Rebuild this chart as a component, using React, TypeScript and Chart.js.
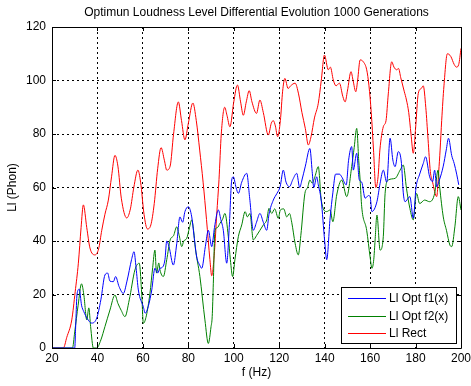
import React, { useEffect, useRef } from "react";
import { Chart, registerables } from "chart.js";

Chart.register(...registerables);

// ---- Data ----
const fRect = [20, 25, 26.5, 28.7, 30.2, 31.6, 32.8, 33.8, 35.3, 36.7, 38.9, 40.5, 41.9, 43.3, 44.8, 46.2, 47.7, 49, 50.5, 52.9, 54.5, 56, 57.8, 59, 60.5, 62, 63.5, 65, 66.5, 68, 69.5, 70.5, 72, 73.5, 75.6, 77, 78.5, 80, 82, 83.5, 85, 86.5, 88, 89.5, 90.3, 91.5, 92.5, 93.5, 94.5, 96, 97, 98.3, 100, 101.6, 103, 104.2, 105.5, 106.8, 108, 110, 111.5, 113, 115.2, 116.5, 117.4, 118.3, 119.3, 120.5, 121.5, 122.5, 123.9, 125, 127, 128.5, 130, 131.5, 132.8, 134, 135.5, 137.2, 138.5, 139.9, 141.6, 142.5, 143.8, 145, 146.5, 148, 149, 150, 151.6, 152.5, 153.7, 154.5, 155.6, 157, 158.5, 159.5, 160.5, 161.5, 162.5, 163.5, 164.3, 165.8, 167, 168, 169.5, 170.5, 171.7, 172.5, 173.5, 175, 176, 177, 178, 179, 180, 181.2, 182.5, 183.4, 184.5, 185.5, 186.5, 187.5, 189.3, 190.2, 190.8, 191.5, 192.5, 194, 195.5, 197, 198, 199, 200];
const llRect = [0, 0, 4, 10.5, 21, 31.7, 45, 53.5, 45, 37.4, 34.8, 37, 44, 50, 55.3, 64, 72, 68, 56, 48.6, 52, 60, 66.5, 62, 50, 44.5, 46, 54, 67, 74.9, 70, 66.5, 68, 80, 92, 85, 77.8, 84, 91.6, 85, 74, 62, 48, 33, 27, 36, 50, 63, 80, 90, 87, 82.7, 92, 98.3, 92, 87, 92, 96.2, 92, 87.7, 92.7, 88, 79.6, 84, 85, 83, 79, 85, 96, 100.8, 97, 98, 99, 95, 88, 82, 75.9, 79, 86, 91.5, 100, 109.5, 104, 105, 100.2, 98, 99, 94, 92, 96, 103.3, 100, 95.8, 100, 107.7, 107, 104, 98, 88, 74, 60, 64, 74, 82.7, 85, 95, 107, 105, 104, 104.5, 101, 96, 92.7, 88, 80, 72.8, 82, 95.2, 97, 98, 90, 78, 66, 62, 56.6, 66, 74, 85, 98, 110, 109, 106, 105, 106, 112];

const fOpt1 = [20, 30, 30.5, 31, 32, 33, 34, 35.5, 37.5, 39.7, 41.5, 43.3, 44.5, 45.5, 47, 48, 49.5, 51.4, 53, 55, 56.1, 57, 58, 60.2, 61, 62.5, 63.9, 65.3, 66.5, 67.5, 68.3, 69.7, 70.5, 71.5, 73.4, 74.9, 76.3, 77.5, 78.5, 80, 81.5, 82.5, 83.7, 85, 85.9, 87.5, 88.8, 90.3, 91.5, 93.2, 94.3, 95.4, 96.9, 98, 99.1, 99.8, 101, 102, 103.5, 105.7, 107, 108.6, 110, 111.5, 113, 114.5, 115.5, 117.4, 119, 120.4, 121.8, 123, 124.5, 126, 127.7, 129, 130, 131.5, 133.5, 134.5, 135.2, 136.5, 137.2, 138.5, 140, 140.9, 142.4, 143.6, 144.8, 146.5, 147.5, 149.5, 150.5, 151.9, 152.6, 154.1, 155.2, 156.3, 157.8, 159.3, 160, 160.8, 163, 164.4, 165.8, 167.3, 168.8, 170, 171, 172.4, 173.8, 174.6, 175.4, 177.5, 179, 180.2, 181.7, 183.4, 184.4, 186.2, 187.5, 188.4, 189.3, 190.5, 192.2, 193.5, 194.5, 195.9, 197, 198.1, 199, 200];
const llOpt1 = [0, 0, 10, 20, 22, 16, 13.6, 11, 9.3, 11.2, 18, 27.3, 28, 25, 24.8, 26.7, 23, 20.4, 25, 33, 36, 30, 21.7, 15.4, 13, 16, 21.7, 29.8, 28, 29.8, 30, 33, 40, 37.9, 31, 39, 49, 47, 51, 52.8, 49, 42, 34, 31, 29.8, 38, 44, 37.9, 45, 51.6, 48, 44, 31.7, 45, 62.8, 64, 60, 57.8, 62, 65.3, 56, 44, 47, 50.3, 47, 44, 50, 55.3, 57.8, 60.3, 66.5, 62, 60.3, 63, 65.3, 60, 62.8, 68, 74.6, 66, 60, 64, 61, 55, 40, 33, 48.6, 58, 65, 65, 64, 61, 70, 75.3, 66.5, 72.8, 63, 62, 56, 57, 56.6, 51, 54.7, 61.6, 66.5, 62, 78.4, 70.3, 67.8, 73.4, 69, 58, 54.7, 56.6, 48.5, 60, 64.7, 69, 71.5, 64, 62.2, 66.5, 60.3, 62.8, 68, 74, 78.4, 72, 69, 65, 61];

const fOpt2 = [20, 29, 30, 31.5, 33, 34, 35.3, 36.2, 37, 38.2, 39.7, 41.5, 43.3, 45.5, 47.7, 49, 50.5, 52.1, 54, 56.5, 58.4, 59.5, 60.2, 61.5, 63.1, 64.3, 65.3, 66, 67, 67.5, 69, 70.5, 72, 73.5, 74.9, 76, 77.1, 78, 79.3, 80.5, 81.5, 82.3, 83, 85.1, 87.3, 88.8, 90, 90.5, 91, 91.7, 92.8, 93.9, 95, 96.1, 97.6, 98.5, 99.5, 100.5, 102, 103.5, 105, 106, 107.1, 108.6, 110, 111.5, 113, 114.5, 115.5, 116.7, 118, 119.6, 120.5, 122, 123.3, 124.5, 125.5, 127, 128.4, 129.5, 131.3, 132.5, 133.5, 134.5, 135.7, 137.2, 138.5, 140.9, 142.4, 143.6, 145.3, 147.5, 149.7, 151.9, 153, 154.1, 155, 155.6, 156.3, 158.5, 160, 160.8, 161.6, 162.2, 163, 164.4, 165.8, 166.6, 168, 171, 173.2, 174.6, 176, 177.5, 179, 180.4, 181.8, 184, 186.2, 188.4, 189.9, 190.6, 192.2, 193.6, 195.1, 195.9, 197.3, 198.8, 200];
const llOpt2 = [0, 0, 6, 16, 24, 20, 10.5, 15, 8, 0, 0, 3, 8, 14.2, 19.8, 16.7, 14, 11.7, 18, 29.2, 31.7, 20, 9.2, 12, 20.4, 30, 36.6, 28, 31.8, 29.2, 26.7, 33, 40.4, 42, 45.3, 42, 37.9, 40, 41, 45, 47.9, 44, 37.9, 26.7, 10.5, 1.7, 8, 11.7, 24.2, 44, 45, 46.6, 48, 50.3, 41.6, 33, 26.7, 33, 41.6, 46, 51, 49, 50.3, 40.4, 42, 44, 46, 47.9, 52.2, 50.3, 52, 48.5, 51.6, 52, 49, 50.3, 47, 39.1, 34.8, 42, 57.8, 60, 62.8, 61.6, 64, 67.8, 55.3, 51, 51.6, 47.2, 57.2, 62.8, 56.6, 67.8, 75, 82.1, 70, 62.8, 52.8, 44, 34, 29.8, 33, 40.4, 49.7, 36.6, 41.6, 57.8, 62.8, 63.4, 66.5, 68.4, 59.7, 52.2, 47.9, 57.8, 54, 55.3, 54.7, 57.8, 66.5, 60.3, 49, 44, 38.5, 37.9, 45.3, 56.6, 51.6];

const xTicks = [20, 40, 60, 80, 100, 120, 140, 160, 180, 200];
const yTicks = [0, 20, 40, 60, 80, 100, 120];

const seriesNames = ["Ll Opt f1(x)", "Ll Opt f2(x)", "Ll Rect"];
const seriesColors = ["#0000ff", "#008000", "#ff0000"];

const FONT = "'Liberation Sans', Arial, Helvetica, sans-serif";

const toPoints = (xs: number[], ys: number[]) => xs.map((x, i) => ({ x, y: ys[i] }));

const framePlugin = {
  id: "matlabFrame",
  afterDatasetsDraw(chart: any) {
    const { ctx, chartArea } = chart;
    const { left, right, top, bottom } = chartArea;
    const xs = chart.scales.x;
    const ys = chart.scales.y;
    ctx.save();
    ctx.strokeStyle = "#000";
    ctx.lineWidth = 1;
    ctx.setLineDash([]);
    ctx.beginPath();
    ctx.rect(Math.round(left) + 0.5, Math.round(top) + 0.5, Math.round(right - left), Math.round(bottom - top));
    ctx.stroke();
    // inward tick marks on all four sides
    const tl = 4;
    ctx.beginPath();
    xTicks.forEach((v) => {
      const px = Math.round(xs.getPixelForValue(v)) + 0.5;
      ctx.moveTo(px, bottom);
      ctx.lineTo(px, bottom - tl);
      ctx.moveTo(px, top);
      ctx.lineTo(px, top + tl);
    });
    yTicks.forEach((v) => {
      const py = Math.round(ys.getPixelForValue(v)) + 0.5;
      ctx.moveTo(left, py);
      ctx.lineTo(left + tl, py);
      ctx.moveTo(right, py);
      ctx.lineTo(right - tl, py);
    });
    ctx.stroke();

    // legend box (lower right, inside the axes)
    const bw = 115;
    const bh = 56;
    const bx = Math.round(right) - 5 - bw;
    const by = Math.round(bottom) - 5 - bh;
    ctx.fillStyle = "#fff";
    ctx.fillRect(bx, by, bw, bh);
    ctx.strokeStyle = "#000";
    ctx.strokeRect(bx + 0.5, by + 0.5, bw, bh);
    ctx.font = "12px " + FONT;
    ctx.textBaseline = "middle";
    ctx.textAlign = "left";
    chart.data.datasets.forEach((ds: any, i: number) => {
      const ly = by + 11 + i * 17.5;
      ctx.strokeStyle = ds.borderColor;
      ctx.beginPath();
      ctx.moveTo(bx + 7, Math.round(ly) + 0.5);
      ctx.lineTo(bx + 45, Math.round(ly) + 0.5);
      ctx.stroke();
      ctx.fillStyle = "#000";
      ctx.fillText(ds.label, bx + 48, ly + 1);
    });
    ctx.restore();
  },
};

export default function App() {
  const ref = useRef<HTMLCanvasElement>(null);

  useEffect(() => {
    if (!ref.current) return;
    Chart.defaults.font.family = FONT;
    Chart.defaults.font.size = 12;
    Chart.defaults.color = "#000";
    const chart = new Chart(ref.current, {
      type: "line",
      data: {
        datasets: [
          { label: seriesNames[0], data: toPoints(fOpt1, llOpt1), borderColor: seriesColors[0] },
          { label: seriesNames[1], data: toPoints(fOpt2, llOpt2), borderColor: seriesColors[1] },
          { label: seriesNames[2], data: toPoints(fRect, llRect), borderColor: seriesColors[2] },
        ].map((d) => ({
          ...d,
          borderWidth: 1,
          pointRadius: 0,
          fill: false,
          cubicInterpolationMode: "monotone" as const,
        })),
      },
      options: {
        responsive: false,
        animation: false,
        layout: { padding: { left: 0, right: 10, top: 0, bottom: 0 } },
        plugins: {
          legend: { display: false },
          tooltip: { enabled: false },
          title: {
            display: true,
            fullSize: false,
            text: "Optimun Loudness Level Differential Evolution 1000 Generations",
            font: { size: 12, weight: "normal" as const },
            color: "#000",
            padding: { top: 5, bottom: 7.6 },
          },
        },
        scales: {
          x: {
            type: "linear",
            min: 20,
            max: 200,
            afterBuildTicks: (s: any) => {
              s.ticks = xTicks.map((v) => ({ value: v }));
            },
            afterFit: (s: any) => {
              s.height = 38;
              s.paddingRight = 0;
              s.paddingLeft = 0;
            },
            ticks: { padding: 3, color: "#000", font: { size: 12 } },
            grid: { color: "#000", drawTicks: false, lineWidth: 1 },
            border: { display: false, dash: [2, 3] },
            title: { display: true, text: "f (Hz)", color: "#000", font: { size: 12 }, padding: { top: 0, bottom: 6 } },
          },
          y: {
            type: "linear",
            min: 0,
            max: 120,
            afterBuildTicks: (s: any) => {
              s.ticks = yTicks.map((v) => ({ value: v }));
            },
            afterFit: (s: any) => {
              s.width = 52;
              s.paddingTop = 0;
              s.paddingBottom = 0;
            },
            ticks: { padding: 6, color: "#000", font: { size: 12 } },
            grid: { color: "#000", drawTicks: false, lineWidth: 1 },
            border: { display: false, dash: [2, 3] },
            title: { display: true, text: "Ll (Phon)", color: "#000", font: { size: 12 }, padding: { top: 5, bottom: 0 } },
          },
        },
      },
      plugins: [framePlugin],
    });
    return () => chart.destroy();
  }, []);

  return (
    <div style={{ position: "fixed", left: 0, top: 0, width: 471, height: 386, background: "#fff" }}>
      <canvas ref={ref} width={471} height={386} style={{ display: "block" }} />
    </div>
  );
}
